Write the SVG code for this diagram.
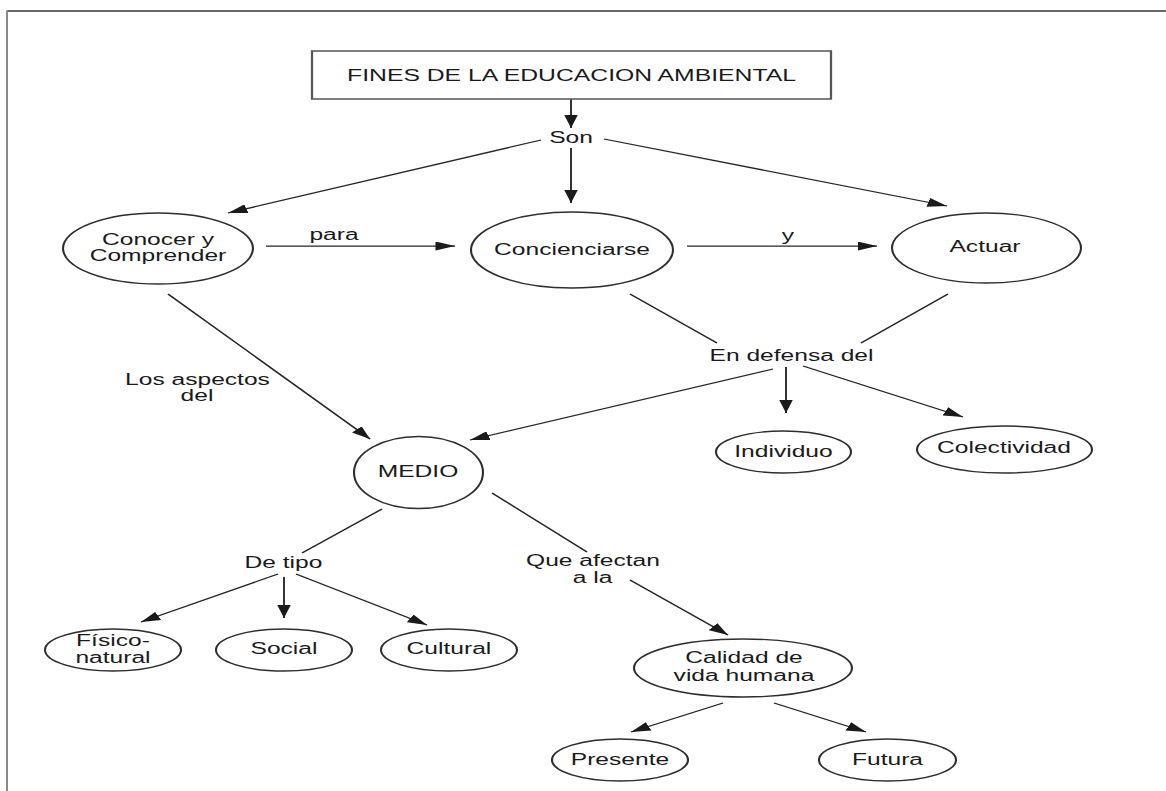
<svg xmlns="http://www.w3.org/2000/svg" width="1166" height="791" viewBox="0 0 1166 791">
<style>
  .t { font-family: "Liberation Sans", Arial, sans-serif; font-size: 16.4px; fill: #1a1a1a; text-anchor: middle; }
  .title { font-size: 16.5px; }
  .c { fill: none; stroke: #262626; stroke-width: 1.25; }
  .a { marker-end: url(#arrow); }
  .n { fill: #fff; stroke: #2e2e2e; stroke-width: 1.4; }
  .box { fill: #fff; stroke: #555; stroke-width: 1.5; }
</style>
<defs>
  <marker id="arrow" markerUnits="userSpaceOnUse" viewBox="0 0 13 9" markerWidth="13" markerHeight="9" refX="13" refY="4.5" orient="auto">
    <path d="M0,0 L13,4.5 L0,9 Z" fill="#1a1a1a"/>
  </marker>
</defs>
<rect x="0" y="0" width="1166" height="791" fill="#fff"/>
<g id="frame">
  <line x1="7" y1="11" x2="1166" y2="11" stroke="#333" stroke-width="1.3"/>
  <line x1="7" y1="10.5" x2="7" y2="791" stroke="#888" stroke-width="2"/>
</g>
<g transform="scale(1.5 1)">
  <g id="connectors">
    <line class="c a" x1="380.67" y1="99" x2="380.67" y2="128"/>
    <line class="c a" x1="360.67" y1="140" x2="152" y2="213"/>
    <line class="c a" x1="380.67" y1="148" x2="380.67" y2="203"/>
    <line class="c a" x1="402.67" y1="139" x2="631.33" y2="206"/>
    <line class="c a" x1="177.33" y1="246" x2="303.33" y2="246"/>
    <line class="c a" x1="458" y1="246" x2="584.67" y2="246"/>
    <line class="c a" x1="112" y1="294" x2="246.67" y2="439"/>
    <line class="c" x1="420" y1="294" x2="478" y2="343"/>
    <line class="c" x1="632" y1="294" x2="574" y2="343"/>
    <line class="c a" x1="515.33" y1="369" x2="313.33" y2="440"/>
    <line class="c a" x1="524" y1="367" x2="524" y2="413"/>
    <line class="c a" x1="535.33" y1="366" x2="642" y2="417"/>
    <line class="c" x1="254.67" y1="509" x2="201.33" y2="553"/>
    <line class="c" x1="328" y1="493" x2="391.33" y2="552"/>
    <line class="c a" x1="185.33" y1="574" x2="94" y2="622"/>
    <line class="c a" x1="189.33" y1="577" x2="189.33" y2="618"/>
    <line class="c a" x1="197.33" y1="574" x2="284.67" y2="625"/>
    <line class="c a" x1="420" y1="580" x2="485.33" y2="635"/>
    <line class="c a" x1="482" y1="703" x2="420.67" y2="732"/>
    <line class="c a" x1="516" y1="703" x2="577.33" y2="732"/>
    <text class="t" x="380.67" y="143">Son</text>
    <text class="t" x="222.67" y="240">para</text>
    <text class="t" x="525.33" y="241">y</text>
    <text class="t" x="131.67" y="385">Los aspectos</text>
    <text class="t" x="131.33" y="401">del</text>
    <text class="t" x="527.67" y="361">En defensa del</text>
    <text class="t" x="189" y="568">De tipo</text>
    <text class="t" x="395.33" y="566">Que afectan</text>
    <text class="t" x="395" y="583">a la</text>
  </g>
  <g id="title">
    <rect class="box" x="208" y="51" width="346" height="48"/>
    <text class="t title" x="381" y="81">FINES DE LA EDUCACION AMBIENTAL</text>
  </g>
  <g id="conocer">
    <ellipse class="n" cx="105.33" cy="248.5" rx="63.33" ry="35.5"/>
    <text class="t" x="105.33" y="245">Conocer y</text>
    <text class="t" x="105.33" y="261">Comprender</text>
  </g>
  <g id="concienciarse">
    <ellipse class="n" cx="381.33" cy="250" rx="67.33" ry="38"/>
    <text class="t" x="381.33" y="255">Concienciarse</text>
  </g>
  <g id="actuar">
    <ellipse class="n" cx="657.67" cy="248" rx="63" ry="35"/>
    <text class="t" x="656.67" y="252">Actuar</text>
  </g>
  <g id="medio">
    <ellipse class="n" cx="279" cy="472.5" rx="43" ry="36"/>
    <text class="t" x="278.67" y="477">MEDIO</text>
  </g>
  <g id="individuo">
    <ellipse class="n" cx="522.33" cy="452" rx="45" ry="21"/>
    <text class="t" x="522.33" y="457">Individuo</text>
  </g>
  <g id="colectividad">
    <ellipse class="n" cx="669.67" cy="449.5" rx="58.33" ry="23.5"/>
    <text class="t" x="669.33" y="453">Colectividad</text>
  </g>
  <g id="fisico">
    <ellipse class="n" cx="75.33" cy="650" rx="45.33" ry="21"/>
    <text class="t" x="75.33" y="646">Físico-</text>
    <text class="t" x="75.33" y="663">natural</text>
  </g>
  <g id="social">
    <ellipse class="n" cx="189.33" cy="650" rx="45.33" ry="21"/>
    <text class="t" x="189.33" y="654">Social</text>
  </g>
  <g id="cultural">
    <ellipse class="n" cx="299.33" cy="650" rx="45.33" ry="21"/>
    <text class="t" x="299.33" y="654">Cultural</text>
  </g>
  <g id="calidad">
    <ellipse class="n" cx="495.33" cy="668" rx="72.67" ry="29"/>
    <text class="t" x="496" y="663">Calidad de</text>
    <text class="t" x="496" y="681">vida humana</text>
  </g>
  <g id="presente">
    <ellipse class="n" cx="413.33" cy="760" rx="45.33" ry="21"/>
    <text class="t" x="413.33" y="765">Presente</text>
  </g>
  <g id="futura">
    <ellipse class="n" cx="591.67" cy="760" rx="45.67" ry="21"/>
    <text class="t" x="591.67" y="765">Futura</text>
  </g>
</g>
</svg>
